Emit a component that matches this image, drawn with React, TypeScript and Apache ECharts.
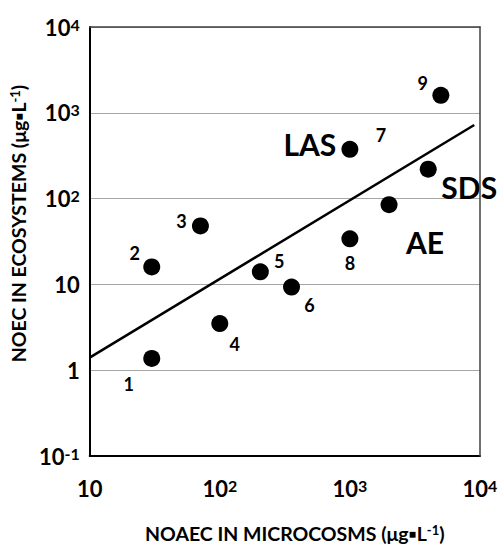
import React, { useEffect, useRef } from "react";
import * as echarts from "echarts";

// Point identifiers and measured no-effect concentrations
const pointIds = ["1", "2", "3", "4", "5", "6", "7", "8", "9", "AE", "SDS"];
const microcosmNoaec = [30, 30, 71, 100, 205, 356, 1000, 1000, 5000, 2000, 4000];
const ecosystemNoec = [1.37, 16, 48, 3.5, 14, 9.3, 375, 34, 1600, 85, 220];

// Extra name shown beside point 7
const extraLabelPoint = 6;
const extraLabelText = "LAS";

// Fitted regression line end points
const fitX = [10, 9030];
const fitY = [1.4, 720];

// Tick labels ("^" marks the exponent)
const xTickLabels = ["10", "10^2", "10^3", "10^4"];
const yTickLabels = ["10^-1", "1", "10", "10^2", "10^3", "10^4"];

const xAxisTitle = "NOAEC IN MICROCOSMS (μg▪L^-1^)";
const yAxisTitle = "NOEC IN ECOSYSTEMS (μg▪L^-1^)";

// Label placement around each marker (pixels from the marker centre)
const labelOffsets: [number, number][] = [
  [-23, 26], [-17, -14], [-19, -5], [15, 20], [19, -11], [18, 18],
  [31, -14], [0, 24], [-18, -12], [36, 37], [41, 18],
];
const extraLabelOffset: [number, number] = [-40, -5];

const FONT = "Lato";

const tickRich = (label: string) => {
  const [b, e] = label.split("^");
  return e ? `{b|${b}}{s|${e}}` : `{b|${b}}`;
};

const titleRich = (title: string) => {
  const parts = title.split("^");
  return parts
    .map((p, i) => (p ? (i % 2 === 1 ? `{s|${p}}` : `{t|${p}}`) : ""))
    .join("");
};

const tickRichStyles = {
  b: { fontFamily: FONT, fontWeight: "bold", fontSize: 22, color: "#000" },
  s: { fontFamily: FONT, fontWeight: "bold", fontSize: 16, color: "#000", verticalAlign: "top" },
};

const titleRichStyles = {
  t: { fontFamily: FONT, fontWeight: "bold", fontSize: 19.5, color: "#000" },
  s: { fontFamily: FONT, fontWeight: "bold", fontSize: 13, color: "#000", verticalAlign: "top" },
};

export default function App() {
  const ref = useRef<HTMLDivElement>(null);

  useEffect(() => {
    if (!ref.current) return;
    const chart = echarts.init(ref.current, undefined, { renderer: "svg" });

    const points = pointIds.map((id, i) => ({
      value: [microcosmNoaec[i], ecosystemNoec[i]],
      label: {
        formatter: id,
        offset: labelOffsets[i],
        fontSize: id.length > 1 ? 30 : 18,
        color: "#000",
      },
    }));

    chart.setOption({
      animation: false,
      backgroundColor: "#fff",
      grid: { left: 88, top: 27, width: 392, height: 434, containLabel: false },
      xAxis: [
        {
          type: "log",
          logBase: 10,
          min: 10,
          max: 10000,
          position: "bottom",
          axisLine: { show: true, lineStyle: { color: "#000", width: 2 } },
          axisTick: { show: false },
          splitLine: { show: false },
          axisLabel: {
            margin: 21,
            formatter: (v: number) => tickRich(xTickLabels[Math.round(Math.log10(v)) - 1] ?? ""),
            rich: tickRichStyles,
          },
          name: titleRich(xAxisTitle),
          nameLocation: "middle",
          nameGap: 67,
          nameTextStyle: { rich: titleRichStyles, padding: [0, 0, 0, 20] },
        },
        {
          type: "log",
          logBase: 10,
          min: 10,
          max: 10000,
          position: "top",
          z: 5,
          axisLine: { show: true, lineStyle: { color: "#404040", width: 1.5 } },
          axisTick: { show: false },
          axisLabel: { show: false },
          splitLine: { show: false },
        },
      ],
      yAxis: [
        {
          type: "log",
          logBase: 10,
          min: 0.1,
          max: 10000,
          position: "left",
          axisLine: { show: true, lineStyle: { color: "#000", width: 2 } },
          axisTick: { show: false },
          splitLine: { show: true, lineStyle: { color: "#a6a6a6", width: 1.2 } },
          axisLabel: {
            margin: 10,
            formatter: (v: number) => tickRich(yTickLabels[Math.round(Math.log10(v)) + 1] ?? ""),
            rich: tickRichStyles,
          },
          name: titleRich(yAxisTitle),
          nameLocation: "middle",
          nameGap: 56,
          nameTextStyle: { rich: titleRichStyles, padding: [0, 0, 0, 36] },
        },
        {
          type: "log",
          logBase: 10,
          min: 0.1,
          max: 10000,
          position: "right",
          z: 5,
          axisLine: { show: true, lineStyle: { color: "#404040", width: 1.5 } },
          axisTick: { show: false },
          axisLabel: { show: false },
          splitLine: { show: false },
        },
      ],
      series: [
        {
          type: "line",
          xAxisIndex: 0,
          yAxisIndex: 0,
          data: fitX.map((x, i) => [x, fitY[i]]),
          symbol: "none",
          lineStyle: { color: "#000", width: 2.5 },
          z: 2,
        },
        {
          type: "scatter",
          xAxisIndex: 0,
          yAxisIndex: 0,
          symbol: "circle",
          symbolSize: 17,
          itemStyle: { color: "#000", opacity: 1 },
          data: points,
          z: 3,
          label: {
            show: true,
            position: "inside",
            color: "#000",
            fontFamily: FONT,
            fontWeight: "bold",
          },
        },
        {
          type: "scatter",
          xAxisIndex: 0,
          yAxisIndex: 0,
          symbol: "circle",
          symbolSize: 1,
          itemStyle: { color: "#fff", opacity: 1 },
          data: [[microcosmNoaec[extraLabelPoint], ecosystemNoec[extraLabelPoint]]],
          z: 1,
          label: {
            show: true,
            position: "inside",
            formatter: extraLabelText,
            offset: extraLabelOffset,
            color: "#000",
            fontFamily: FONT,
            fontWeight: "bold",
            fontSize: 30,
          },
        },
      ],
    });

    return () => chart.dispose();
  }, []);

  return (
    <div
      ref={ref}
      style={{ position: "absolute", left: 0, top: 0, width: 503, height: 548, background: "#fff" }}
    />
  );
}
